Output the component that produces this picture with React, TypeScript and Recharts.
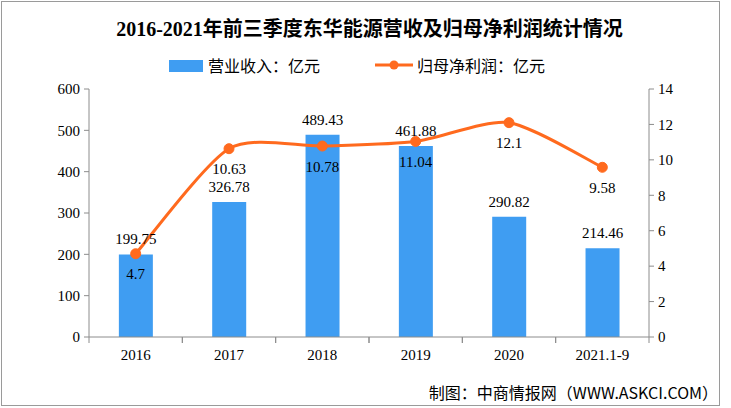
import React from "react";
import {
  ComposedChart,
  Bar,
  Line,
  XAxis,
  YAxis,
  LabelList,
} from "recharts";

// Revenue (亿元) and net profit attributable to parent (亿元), Jan-Sep each year
const categories = ["2016", "2017", "2018", "2019", "2020", "2021.1-9"];
const revenue = [199.75, 326.78, 489.43, 461.88, 290.82, 214.46];
const netProfit = [4.7, 10.63, 10.78, 11.04, 12.1, 9.58];

const leftTicks = [0, 100, 200, 300, 400, 500, 600];
const rightTicks = [0, 2, 4, 6, 8, 10, 12, 14];

const data = categories.map((name, i) => ({
  name,
  revenue: revenue[i],
  profit: netProfit[i],
}));

const BAR = "#3F9DF2";
const LINE = "#FF6A1E";
const AXIS = "#8c8c8c";
const SERIF = '"Liberation Serif", "Noto Sans CJK SC", serif';
const CJK = '"Noto Sans CJK SC", sans-serif';
const PLOT_W = 560;

// smooth line like the office-style chart (cardinal spline through the points)
function smoothCurve(context: any) {
  let pts: [number, number][] = [];
  const k = 1 / 8;
  return {
    areaStart() {},
    areaEnd() {},
    lineStart() {
      pts = [];
    },
    point(x: number, y: number) {
      pts.push([+x, +y]);
    },
    lineEnd() {
      if (!pts.length) return;
      context.moveTo(pts[0][0], pts[0][1]);
      for (let i = 0; i < pts.length - 1; i++) {
        const p0 = pts[i - 1] || pts[i];
        const p1 = pts[i];
        const p2 = pts[i + 1];
        const p3 = pts[i + 2] || p2;
        context.bezierCurveTo(
          p1[0] + (p2[0] - p0[0]) * k,
          p1[1] + (p2[1] - p0[1]) * k,
          p2[0] - (p3[0] - p1[0]) * k,
          p2[1] - (p3[1] - p1[1]) * k,
          p2[0],
          p2[1]
        );
      }
    },
  };
}

const CategoryTick = (props: any) => {
  const { x, y, payload } = props;
  const half = PLOT_W / categories.length / 2;
  return (
    <g>
      <line x1={x - half} y1={y} x2={x - half} y2={y + 6} stroke={AXIS} />
      <line x1={x + half} y1={y} x2={x + half} y2={y + 6} stroke={AXIS} />
      <text x={x} y={y + 18} dy="0.35em" textAnchor="middle" fontSize={15} fontFamily={SERIF} fill="#000">
        {payload.value}
      </text>
    </g>
  );
};

export default function App() {
  return (
    <div style={{ position: "absolute", left: 0, top: 0, width: 731, height: 408, background: "#fff" }}>
      <div
        style={{
          position: "absolute",
          left: 1,
          top: 1,
          width: 717,
          height: 403,
          border: "1px solid #9a9a9a",
        }}
      />

      <div
        style={{
          position: "absolute",
          top: 13,
          left: 8,
          width: 723,
          textAlign: "center",
          fontFamily: SERIF,
          fontWeight: "bold",
          fontSize: 20,
          color: "#000",
        }}
      >
        2016-2021年前三季度东华能源营收及归母净利润统计情况
      </div>

      <div style={{ position: "absolute", left: 169, top: 60, width: 34, height: 12, background: BAR }} />
      <div style={{ position: "absolute", left: 208, top: 53, fontFamily: CJK, fontSize: 16, color: "#000" }}>
        营业收入：亿元
      </div>
      <svg width={38} height={14} style={{ position: "absolute", left: 375, top: 58 }}>
        <line x1={0} y1={7} x2={38} y2={7} stroke={LINE} strokeWidth={3} />
        <circle cx={19} cy={7} r={4.5} fill={LINE} />
      </svg>
      <div style={{ position: "absolute", left: 417, top: 53, fontFamily: CJK, fontSize: 16, color: "#000" }}>
        归母净利润：亿元
      </div>

      <div style={{ position: "absolute", left: 0, top: 0 }}>
        <ComposedChart
          width={731}
          height={408}
          data={data}
          margin={{ top: 89, right: 0, bottom: 41, left: 0 }}
          barCategoryGap="32%"
        >
          <XAxis
            dataKey="name"
            axisLine={{ stroke: AXIS }}
            tickLine={false}
            tickSize={0}
            tickMargin={0}
            tick={<CategoryTick />}
            height={30}
            interval={0}
          />
          <YAxis
            yAxisId="left"
            domain={[0, 600]}
            ticks={leftTicks}
            width={89}
            axisLine={{ stroke: AXIS }}
            tickLine={{ stroke: AXIS }}
            tickSize={5}
            tickMargin={4}
            tick={{ fontSize: 15, fill: "#000", fontFamily: SERIF }}
          />
          <YAxis
            yAxisId="right"
            orientation="right"
            domain={[0, 14]}
            ticks={rightTicks}
            width={82}
            axisLine={{ stroke: AXIS }}
            tickLine={{ stroke: AXIS }}
            tickSize={5}
            tickMargin={4}
            tick={{ fontSize: 15, fill: "#000", fontFamily: SERIF }}
          />
          <Bar yAxisId="left" dataKey="revenue" fill={BAR} isAnimationActive={false}>
            <LabelList
              dataKey="revenue"
              position="top"
              offset={10}
              fontSize={15}
              fill="#000"
              fontFamily={SERIF}
              formatter={(v: any) => Number(v).toFixed(2)}
            />
          </Bar>
          <Line
            yAxisId="right"
            dataKey="profit"
            type={smoothCurve as any}
            stroke={LINE}
            strokeWidth={3}
            dot={{ r: 5, fill: LINE, stroke: LINE, strokeWidth: 1 }}
            isAnimationActive={false}
          >
            <LabelList
              dataKey="profit"
              position="bottom"
              offset={15}
              fontSize={15}
              fill="#000"
              fontFamily={SERIF}
            />
          </Line>
        </ComposedChart>
      </div>

      <div
        style={{
          position: "absolute",
          top: 380,
          right: 13,
          fontFamily: CJK,
          fontSize: 16,
          color: "#000",
        }}
      >
        制图：中商情报网（WWW.ASKCI.COM）
      </div>
    </div>
  );
}
